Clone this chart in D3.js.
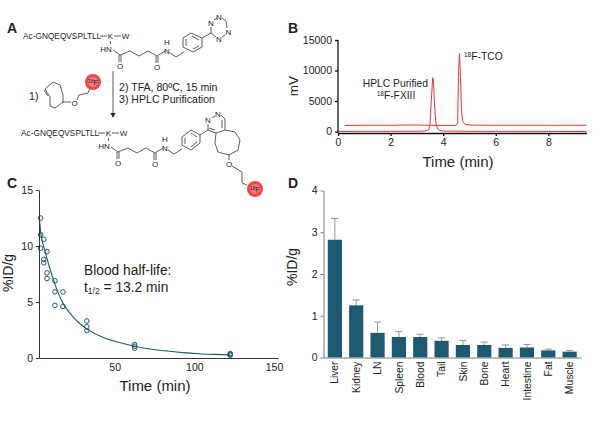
<!DOCTYPE html>
<html lang="en">
<head>
    <meta charset="UTF-8">
    <title>18F-FXIII figure</title>
    <style>
        html, body { margin: 0; background: #fff; }
        svg { display: block; }
        text { font-family: "Liberation Sans", Arial, sans-serif; fill: #222; }
        .tick text { font-family: "Liberation Sans", Arial, sans-serif; }
    </style>
    <script src="https://d3js.org/d3.v7.min.js"></script>
</head>
<body>
    <div id="container"></div>
    <script>
        // Panel B, HPLC traces
        const hplcTicksX = [0, 2, 4, 6, 8];
        const hplcTicksY = [0, 5000, 10000, 15000];
        const fxiiiTime = [0, 1, 2, 3, 3.3, 3.45, 3.5, 3.55, 3.6, 3.63, 3.67, 3.72, 3.78, 3.85, 4, 5, 6, 7, 8, 9.45];
        const fxiiiMv = [0, 20, 30, 40, 80, 250, 1200, 5200, 8800, 8400, 4500, 1500, 500, 180, 60, 30, 20, 20, 10, 0];
        const tcoTime = [0.25, 1, 2, 2.8, 3.5, 4.4, 4.5, 4.55, 4.58, 4.62, 4.66, 4.7, 4.75, 4.85, 5.1, 6, 7, 8, 9.45];
        const tcoMv = [1000, 1020, 1020, 1080, 1000, 1000, 1020, 1400, 9000, 12800, 8800, 3200, 1600, 1150, 1050, 1020, 1020, 1020, 1020];

        // Panel C, blood clearance
        const bloodTime = [1, 1, 1, 3, 3, 3, 5, 5, 5, 10, 10, 10, 15, 15, 30, 30, 30, 60, 60, 60, 120, 120, 120];
        const bloodDose = [12.5, 11, 9.8, 10.6, 8.8, 8.5, 9.5, 7.6, 7.1, 6.9, 5.9, 4.7, 5.9, 4.6, 3.3, 2.8, 2.45, 1.2, 1.05, 0.87, 0.4, 0.3, 0.25];
        const fitTime = [0.3, 1, 3, 5, 7, 10, 15, 20, 25, 30, 40, 50, 60, 70, 80, 90, 100, 110, 120];
        const fitDose = [12.4, 11.3, 9.9, 8.9, 7.9, 6.6, 4.9, 3.9, 3.15, 2.6, 1.85, 1.4, 1.05, 0.8, 0.62, 0.48, 0.38, 0.32, 0.28];
        const bloodTicksX = [50, 100, 150];
        const bloodTicksY = [0, 5, 10, 15];

        // Panel D, biodistribution
        const organs = ["Liver", "Kidney", "LN", "Spleen", "Blood", "Tail", "Skin", "Bone", "Heart", "Intestine", "Fat", "Muscle"];
        const organDose = [2.82, 1.25, 0.59, 0.49, 0.49, 0.40, 0.30, 0.30, 0.23, 0.24, 0.17, 0.14];
        const organErr = [0.51, 0.13, 0.26, 0.13, 0.07, 0.07, 0.11, 0.07, 0.07, 0.07, 0.03, 0.03];
        const organTicksY = [0, 1, 2, 3, 4];

        const teal = "#1b5a70";
        const red = "#e5383b";

        const svg = d3.select("#container").append("svg")
            .attr("width", 600)
            .attr("height", 428)
            .attr("viewBox", "0 0 600 428");

        function label(x, y, str, size, opts) {
            opts = opts || {};
            const t = svg.append("text")
                .attr("x", x).attr("y", y)
                .attr("font-size", size)
                .attr("text-anchor", opts.anchor || "start")
                .text(str);
            if (opts.bold) t.attr("font-weight", "bold");
            if (opts.rotate) t.attr("transform", `rotate(-90 ${x} ${y})`);
            return t;
        }

        function styleAxis(g, color, width, fontSize) {
            g.selectAll("path").attr("stroke", color).attr("stroke-width", width);
            g.selectAll("line").attr("stroke", color).attr("stroke-width", width);
            g.selectAll("text").attr("font-size", fontSize).style("fill", "#222");
        }

        // ---- panel labels
        label(7, 33, "A", 14, { bold: true });
        label(288, 33, "B", 14, { bold: true });
        label(7, 188, "C", 14, { bold: true });
        label(288, 188, "D", 14, { bold: true });

        // ---- panel A, the chemistry scheme
        const bondColor = "#333";
        function bonds(points) {
            svg.append("path")
                .attr("d", d3.line()(points))
                .attr("fill", "none")
                .attr("stroke", bondColor)
                .attr("stroke-width", 0.8);
        }
        function atom(x, y, s) {
            label(x, y, s, 8, { anchor: "middle" });
        }
        function peptide(x0, y0) {
            label(x0, y0, "Ac-GNQEQVSPLTLL", 8.3);
            bonds([[x0 + 77, y0 - 3], [x0 + 84, y0 - 3]]);
            atom(x0 + 87.5, y0, "K");
            bonds([[x0 + 91, y0 - 3], [x0 + 98, y0 - 3]]);
            atom(x0 + 102.5, y0, "W");
            bonds([[x0 + 87.5, y0 + 2], [x0 + 87.5, y0 + 5]]);
            atom(x0 + 83, y0 + 13, "HN");
            // glutaryl linker
            const c1 = [x0 + 97, y0 + 16], c2 = [x0 + 107, y0 + 12], c3 = [x0 + 116, y0 + 17],
                c4 = [x0 + 125, y0 + 12], c5 = [x0 + 134, y0 + 17], n2 = [x0 + 142, y0 + 12];
            bonds([[x0 + 90, y0 + 11], c1, c2, c3, c4, c5, n2]);
            bonds([[c1[0] - 1, c1[1]], [c1[0] - 1, c1[1] + 7]]);
            bonds([[c1[0] + 1, c1[1]], [c1[0] + 1, c1[1] + 7]]);
            bonds([[c5[0] - 1, c5[1]], [c5[0] - 1, c5[1] + 7]]);
            bonds([[c5[0] + 1, c5[1]], [c5[0] + 1, c5[1] + 7]]);
            atom(c1[0], c1[1] + 14, "O");
            atom(c5[0], c5[1] + 14, "O");
            atom(n2[0] + 2, n2[1] + 2.5, "N");
            atom(n2[0] + 2, n2[1] - 6.5, "H");
            bonds([[n2[0] + 5, n2[1] + 2], [n2[0] + 11, n2[1] + 6], [n2[0] + 19, n2[1] + 1]]);
        }

        // top structure
        peptide(23, 39);
        bonds([[183, 47], [183, 38], [191, 33], [202, 38], [202, 47], [193, 52], [183, 47]]);
        bonds([[186, 46], [186, 39]]);
        bonds([[192, 36], [199, 40]]);
        bonds([[199, 46], [193, 49]]);
        bonds([[202, 38], [211, 33]]);
        bonds([[211, 33], [211, 27]]);
        bonds([[214, 20], [217, 18]]);
        bonds([[222, 18], [226, 21], [227, 28]]);
        bonds([[225, 35], [222, 37]]);
        bonds([[216, 37], [211, 33]]);
        atom(211, 26, "N");
        atom(219, 20, "N");
        atom(228.5, 35, "N");
        atom(219, 42, "N");

        // arrow
        bonds([[113, 71], [113, 114]]);
        svg.append("path").attr("d", d3.line()([[110.5, 113], [115.5, 113], [113, 118]])).attr("fill", "#222");
        label(119, 91, "2) TFA, 80ºC, 15 min", 10.6);
        label(119, 103, "3) HPLC Purification", 10.6);
        label(29, 100, "1)", 10.6);

        // trans-cyclooctene with linker
        bonds([[50, 97], [45, 89], [53, 82], [60, 85], [63, 95], [63, 102], [55, 108], [50, 106], [50, 97]]);
        bonds([[48, 96], [44, 90]]);
        bonds([[63, 102], [71, 102]]);
        atom(74.5, 105.5, "O");
        bonds([[77, 100], [79, 95], [88, 93], [91, 86]]);

        function fluorine(cx, cy) {
            svg.append("circle").attr("cx", cx).attr("cy", cy).attr("r", 8).attr("fill", "#f0474a");
            svg.append("circle").attr("cx", cx).attr("cy", cy).attr("r", 5).attr("fill", "#f47c7c");
            const t = svg.append("text").attr("x", cx).attr("y", cy + 2.5)
                .attr("text-anchor", "middle").attr("font-size", 7.5);
            t.append("tspan").attr("font-size", 5).attr("dy", -1.5).text("18");
            t.append("tspan").attr("dy", 1.5).text("F");
        }
        fluorine(93, 82);

        // bottom structure
        peptide(21, 136);
        bonds([[182, 145], [182, 137], [191, 130], [200, 135], [200, 143], [191, 150], [182, 145]]);
        bonds([[185, 144], [185, 138]]);
        bonds([[191, 133], [197, 137]]);
        bonds([[197, 142], [191, 147]]);
        bonds([[200, 135], [208, 130]]);
        bonds([[208, 130], [208, 124]]);
        bonds([[212, 118], [215, 116]]);
        bonds([[221, 115], [225, 119], [225, 130], [216, 133], [208, 130]]);
        bonds([[222, 120], [222, 128]]);
        bonds([[215, 130], [209, 128]]);
        atom(208, 123, "N");
        atom(218, 117, "N");
        bonds([[225, 130], [235, 132], [240, 140], [238, 150], [229, 155], [218, 152], [215, 143], [216, 133]]);
        bonds([[229, 155], [229, 160]]);
        atom(229, 167, "O");
        bonds([[232, 166], [242, 172], [242, 183], [247, 185]]);
        fluorine(255, 189);

        // ---- panel B
        const xHplc = d3.scaleLinear().domain([0, 9.45]).range([338, 586.5]);
        const yHplc = d3.scaleLinear().domain([0, 15000]).range([131.5, 40]);
        const traceLine = d3.line().x(d => xHplc(d[0])).y(d => yHplc(d[1]));

        svg.append("path").datum(d3.zip(fxiiiTime, fxiiiMv))
            .attr("d", traceLine).attr("fill", "none").attr("stroke", red).attr("stroke-width", 1);
        svg.append("path").datum(d3.zip(tcoTime, tcoMv))
            .attr("d", traceLine).attr("fill", "none").attr("stroke", red).attr("stroke-width", 1);

        const hplcBottom = svg.append("g").attr("transform", "translate(0,133)")
            .call(d3.axisBottom(xHplc).tickValues(hplcTicksX).tickFormat(d3.format("d")).tickSize(3).tickSizeOuter(0));
        styleAxis(hplcBottom, "#111", 1.3, 10.5);
        const hplcLeft = svg.append("g").attr("transform", "translate(338,0)")
            .call(d3.axisLeft(yHplc).tickValues(hplcTicksY).tickFormat(d3.format("d")).tickSize(3).tickSizeOuter(0));
        styleAxis(hplcLeft, "#111", 1.3, 10.5);
        hplcLeft.select("path").attr("d", "M0,40V133");

        label(298, 86, "mV", 13.5, { anchor: "middle", rotate: true });
        label(458, 167, "Time (min)", 15, { anchor: "middle" });
        label(428, 87, "HPLC Purified", 10.3, { anchor: "end" });

        const fxiiiNote = svg.append("text").attr("x", 396).attr("y", 99)
            .attr("font-size", 10.3).attr("text-anchor", "middle");
        fxiiiNote.append("tspan").attr("font-size", 6.5).attr("dy", -3).text("18");
        fxiiiNote.append("tspan").attr("dy", 3).text("F-FXIII");
        const tcoNote = svg.append("text").attr("x", 464).attr("y", 60).attr("font-size", 10.3);
        tcoNote.append("tspan").attr("font-size", 6.5).attr("dy", -3).text("18");
        tcoNote.append("tspan").attr("dy", 3).text("F-TCO");

        // ---- panel C
        const xBlood = d3.scaleLinear().domain([0, 150]).range([39, 278]);
        const yBlood = d3.scaleLinear().domain([0, 15]).range([358, 190]);

        svg.append("path").datum(d3.zip(fitTime, fitDose))
            .attr("d", d3.line().x(d => xBlood(d[0])).y(d => yBlood(d[1])).curve(d3.curveMonotoneX))
            .attr("fill", "none").attr("stroke", teal).attr("stroke-width", 1.1);

        svg.append("g").selectAll("circle")
            .data(d3.zip(bloodTime, bloodDose))
            .join("circle")
            .attr("cx", d => xBlood(d[0]))
            .attr("cy", d => yBlood(d[1]))
            .attr("r", 2.3)
            .attr("fill", "none")
            .attr("stroke", teal)
            .attr("stroke-width", 1);

        const bloodBottom = svg.append("g").attr("transform", "translate(0,358)")
            .call(d3.axisBottom(xBlood).tickValues(bloodTicksX).tickFormat(d3.format("d")).tickSize(0).tickSizeOuter(0));
        styleAxis(bloodBottom, "#333", 1, 10.5);
        bloodBottom.selectAll("text").attr("dx", -4).attr("dy", "0.95em");
        const bloodLeft = svg.append("g").attr("transform", "translate(39,0)")
            .call(d3.axisLeft(yBlood).tickValues(bloodTicksY).tickFormat(d3.format("d")).tickSize(3).tickSizeOuter(0));
        styleAxis(bloodLeft, "#333", 1, 10.5);

        label(13, 273, "%ID/g", 14, { anchor: "middle", rotate: true });
        label(155, 391, "Time (min)", 15, { anchor: "middle" });
        label(84, 275, "Blood half-life:", 13.8);
        const halfLife = svg.append("text").attr("x", 84).attr("y", 292).attr("font-size", 13.8);
        halfLife.append("tspan").text("t");
        halfLife.append("tspan").attr("font-size", 8.5).attr("dy", 2).text("1/2");
        halfLife.append("tspan").attr("dy", -2).text(" = 13.2 min");

        // ---- panel D
        const xOrgan = d3.scaleBand().domain(organs).range([323.5, 581]).paddingInner(0.335).paddingOuter(0.2);
        const yOrgan = d3.scaleLinear().domain([0, 4]).range([357.5, 190.5]);
        const organRows = d3.zip(organs, organDose, organErr);

        svg.append("g").selectAll("line")
            .data(organRows)
            .join("line")
            .attr("x1", d => xOrgan(d[0]) + xOrgan.bandwidth() / 2)
            .attr("x2", d => xOrgan(d[0]) + xOrgan.bandwidth() / 2)
            .attr("y1", d => yOrgan(d[1]))
            .attr("y2", d => yOrgan(d[1] + d[2]))
            .attr("stroke", "#8a8a8a")
            .attr("stroke-width", 0.9);
        svg.append("g").selectAll("line")
            .data(organRows)
            .join("line")
            .attr("x1", d => xOrgan(d[0]) + xOrgan.bandwidth() / 2 - 3.5)
            .attr("x2", d => xOrgan(d[0]) + xOrgan.bandwidth() / 2 + 3.5)
            .attr("y1", d => yOrgan(d[1] + d[2]))
            .attr("y2", d => yOrgan(d[1] + d[2]))
            .attr("stroke", "#8a8a8a")
            .attr("stroke-width", 0.9);
        svg.append("g").selectAll("rect")
            .data(organRows)
            .join("rect")
            .attr("x", d => xOrgan(d[0]))
            .attr("y", d => yOrgan(d[1]))
            .attr("width", xOrgan.bandwidth())
            .attr("height", d => yOrgan(0) - yOrgan(d[1]))
            .attr("fill", teal);

        const organBottom = svg.append("g").attr("transform", "translate(0,357.5)")
            .call(d3.axisBottom(xOrgan).tickSize(0).tickSizeOuter(0));
        styleAxis(organBottom, "#777", 1, 10.3);
        organBottom.selectAll("text")
            .attr("text-anchor", "end")
            .attr("transform", "rotate(-90)")
            .attr("x", -4)
            .attr("y", 0)
            .attr("dy", "0.35em");
        const organLeft = svg.append("g").attr("transform", "translate(323.5,0)")
            .call(d3.axisLeft(yOrgan).tickValues(organTicksY).tickFormat(d3.format("d")).tickSize(3).tickSizeOuter(0));
        styleAxis(organLeft, "#777", 1, 10.5);

        label(297, 267, "%ID/g", 14, { anchor: "middle", rotate: true });
    </script>
</body>
</html>
